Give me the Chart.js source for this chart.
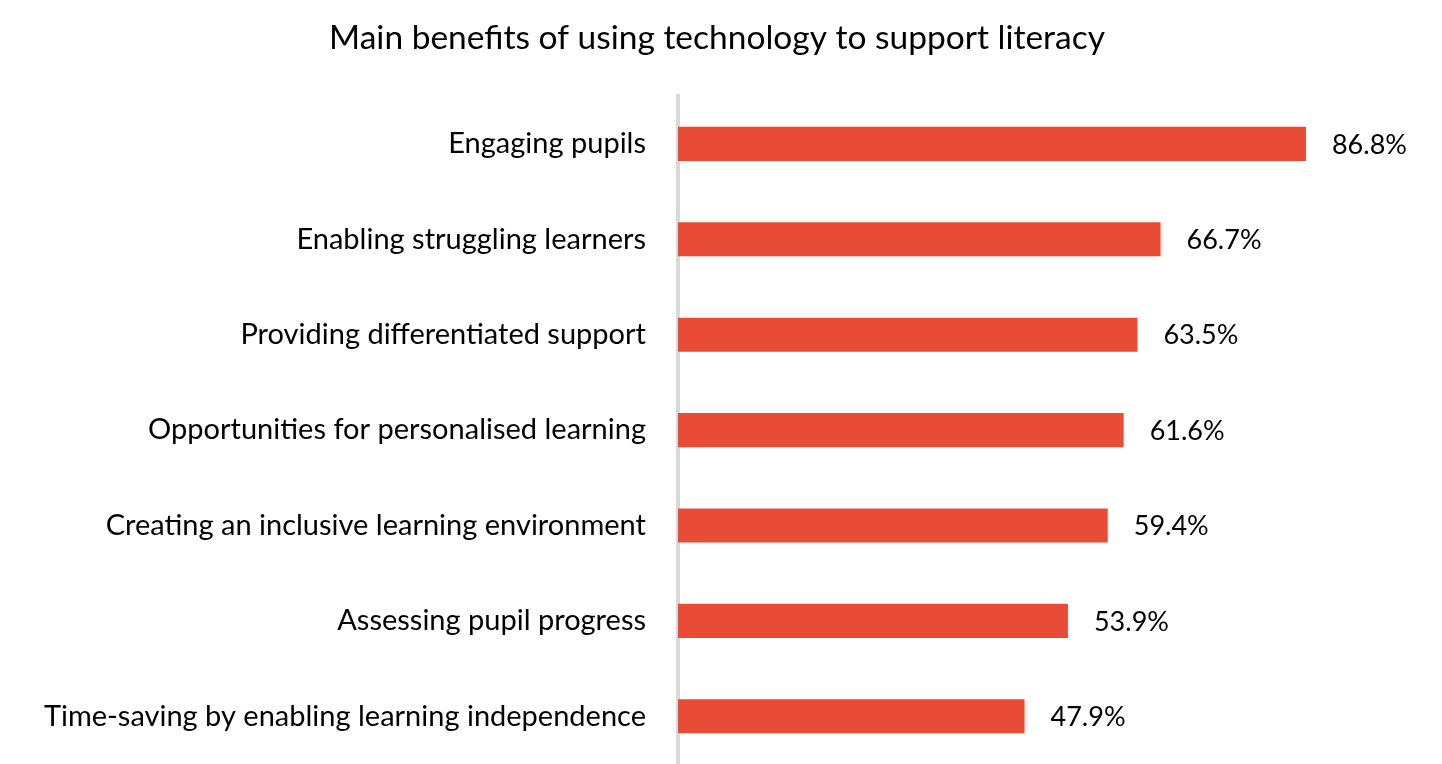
<!DOCTYPE html>
<html>
<head>
<meta charset="utf-8">
<title>Main benefits of using technology to support literacy</title>
<script src="https://cdn.jsdelivr.net/npm/chart.js@4.4.1/dist/chart.umd.min.js"></script>
<style>
  html, body { margin: 0; padding: 0; background: #fff; }
  #wrap { width: 1442px; height: 764px; }
</style>
</head>
<body>
<div id="wrap"><canvas id="chart"></canvas></div>
<script>
const categories = [
    'Engaging pupils',
    'Enabling struggling learners',
    'Providing differentiated support',
    'Opportunities for personalised learning',
    'Creating an inclusive learning environment',
    'Assessing pupil progress',
    'Time-saving by enabling learning independence'
];
const percentages = [86.8, 66.7, 63.5, 61.6, 59.4, 53.9, 47.9];

const FONT = 'Lato, "Open Sans", sans-serif';

// draws the "86.8%" style labels after each bar
const valueLabels = {
    id: 'valueLabels',
    afterDatasetsDraw(chart) {
        const ctx = chart.ctx;
        const meta = chart.getDatasetMeta(0);
        ctx.save();
        ctx.font = '27px ' + FONT;
        ctx.fillStyle = '#000';
        ctx.textAlign = 'left';
        ctx.textBaseline = 'middle';
        meta.data.forEach((bar, i) => {
            ctx.fillText(percentages[i].toFixed(1) + '%', bar.x + 26, bar.y + 1);
        });
        ctx.restore();
    }
};

const ctx = document.getElementById('chart').getContext('2d');
new Chart(ctx, {
    type: 'bar',
    data: {
        labels: categories,
        datasets: [{
            data: percentages,
            backgroundColor: '#E94C36',
            borderWidth: 0,
            categoryPercentage: 1,
            barPercentage: 0.357
        }]
    },
    options: {
        indexAxis: 'y',
        responsive: true,
        maintainAspectRatio: false,
        animation: false,
        layout: { padding: { left: 0, right: 8, top: 0, bottom: 0 } },
        plugins: {
            legend: { display: false },
            tooltip: { enabled: false },
            title: {
                display: true,
                text: 'Main benefits of using technology to support literacy',
                color: '#000',
                font: { family: FONT, size: 33.5, weight: 'normal' },
                padding: { top: 18, bottom: 38 }
            }
        },
        scales: {
            x: {
                display: false,
                min: 0,
                max: 104.5
            },
            y: {
                grid: { display: false, drawTicks: false },
                border: { display: true, color: '#d9d9d9', width: 4 },
                ticks: {
                    color: '#000',
                    padding: 32,
                    font: { family: FONT, size: 29 }
                },
                afterFit(scale) {
                    scale.width = 678;
                    // keep the bars running to the bottom edge like the original
                    scale.paddingTop = 0;
                    scale.paddingBottom = 0;
                }
            }
        }
    },
    plugins: [valueLabels]
});
</script>
</body>
</html>
